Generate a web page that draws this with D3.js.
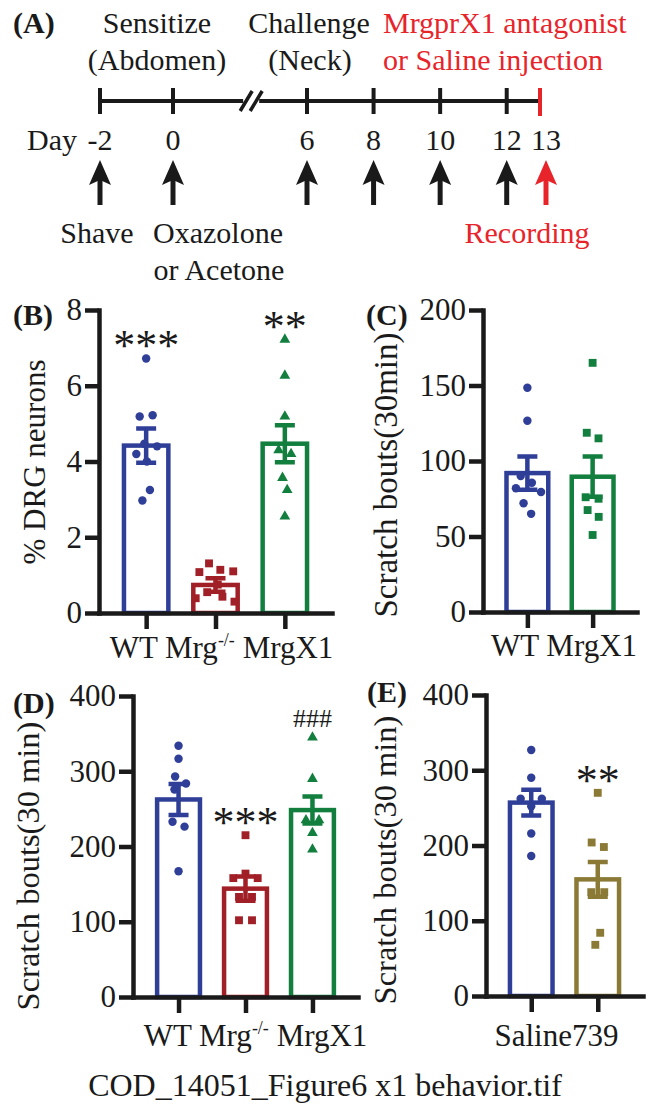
<!DOCTYPE html>
<html>
<head>
<meta charset="utf-8">
<script src="https://cdn.jsdelivr.net/npm/d3@7"></script>
<style>
  body { margin: 0; background: #fff; }
  svg { display: block; }
  text { font-family: 'Liberation Serif', 'Times New Roman', serif; fill: #1a1a1a; }
</style>
</head>
<body>
<div id="fig"></div>
<script>
// Figure 6: timeline (A) and four bar + scatter panels (B-E)

const INK = '#1a1a1a';
const RED_TEXT = '#e8242b';
const BLUE = '#2f3f98';
const DARK_RED = '#a11f26';
const GREEN = '#127f3f';
const OLIVE = '#8b7a36';

// (A) timeline
const tickDays = [-2, 0, 6, 8, 10, 12];
const recordDay = 13;
const arrowDays = [-2, 0, 6, 8, 10, 12, 13];

// (B) % DRG neurons
const groupsB = ['WT', 'Mrg-/-', 'MrgX1'];
const meansB = [4.42, 0.74, 4.47];
const semsB = [0.45, 0.18, 0.49];
const pointsB = [
    [6.72, 5.19, 5.22, 4.47, 4.4, 4.2, 4.0, 3.25, 2.97],
    [1.31, 1.14, 1.1, 1.08, 0.75, 0.55, 0.43, 0.39, 0.3],
    [7.22, 6.27, 5.19, 4.3, 4.2, 3.57, 3.25, 2.55]
];
const sigB = ['***', '', '**'];
const ticksB = [0, 2, 4, 6, 8];

// (C) scratch bouts, 30 min
const groupsC = ['WT', 'MrgX1'];
const meansC = [92, 89.6];
const semsC = [11, 13.3];
const pointsC = [
    [148.5, 126.7, 90, 85.6, 82, 79.5, 72, 65],
    [165, 118.7, 115, 76, 75, 67.5, 63, 51]
];
const ticksC = [0, 50, 100, 150, 200];

// (D) scratch bouts, 30 min
const groupsD = ['WT', 'Mrg-/-', 'MrgX1'];
const meansD = [262.5, 144, 248.4];
const semsD = [20.5, 16, 18];
const pointsD = [
    [334, 316.6, 293, 283.6, 275.7, 233, 226.4, 167],
    [215, 164, 158, 158, 133, 133, 102, 102],
    [345, 290, 235, 235, 218, 196]
];
const sigD = ['', '***', '###'];
const ticksD = [0, 100, 200, 300, 400];

// (E) saline vs 739
const groupsE = ['Saline', '739'];
const meansE = [257, 155];
const semsE = [17, 23];
const pointsE = [
    [327, 290, 262, 262, 252, 216, 186],
    [270, 204, 198, 138, 138, 84, 68]
];
const sigE = ['', '**'];
const ticksE = [0, 100, 200, 300, 400];

const svg = d3.select('#fig').append('svg')
    .attr('width', 649)
    .attr('height', 1107);

svg.append('rect').attr('width', 649).attr('height', 1107).attr('fill', '#fff');

function addText(g, x, y, str, opts = {}) {
    return g.append('text')
        .attr('x', x)
        .attr('y', y)
        .attr('text-anchor', opts.anchor || 'middle')
        .attr('font-size', opts.size || 30)
        .attr('font-weight', opts.weight || null)
        .style('fill', opts.color || INK)
        .text(str);
}

function drawTimeline() {
    const g = svg.append('g').attr('class', 'timeline');
    const x = d3.scaleLinear().domain([-2, 0, 6, 13]).range([100, 173, 307, 540]);
    const lineY = 101;
    const breakX = x(3.5);

    // main line, broken between day 0 and day 6
    g.append('line')
        .attr('x1', x(-2)).attr('x2', breakX - 8)
        .attr('y1', lineY).attr('y2', lineY)
        .attr('stroke', INK).attr('stroke-width', 4);
    g.append('line')
        .attr('x1', breakX + 8).attr('x2', x(recordDay))
        .attr('y1', lineY).attr('y2', lineY)
        .attr('stroke', INK).attr('stroke-width', 4);
    [-5, 5].forEach(off => {
        g.append('line')
            .attr('x1', breakX + off - 6).attr('y1', lineY + 10)
            .attr('x2', breakX + off + 6).attr('y2', lineY - 10)
            .attr('stroke', INK).attr('stroke-width', 3.5);
    });

    g.selectAll('.tick').data(tickDays).join('line')
        .attr('x1', d => x(d)).attr('x2', d => x(d))
        .attr('y1', lineY - 13).attr('y2', lineY + 13)
        .attr('stroke', INK).attr('stroke-width', 4);
    g.append('line')
        .attr('x1', x(recordDay)).attr('x2', x(recordDay))
        .attr('y1', lineY - 13).attr('y2', lineY + 15)
        .attr('stroke', RED_TEXT).attr('stroke-width', 4);

    // day labels (13 nudged right so it clears 12)
    const labelX = d => x(d) + (d === recordDay ? 6 : 0);
    g.selectAll('.day').data(arrowDays).join('text')
        .attr('x', d => labelX(d))
        .attr('y', 150)
        .attr('text-anchor', 'middle')
        .attr('font-size', 30)
        .text(d => d);
    addText(g, x(-2) - 23, 150, 'Day', { anchor: 'end' });

    // arrows
    g.selectAll('.arrow').data(arrowDays).join('g')
        .attr('transform', d => `translate(${labelX(d)},0)`)
        .each(function(d) {
            const col = d === recordDay ? RED_TEXT : INK;
            const a = d3.select(this);
            a.append('line')
                .attr('x1', 0).attr('x2', 0)
                .attr('y1', 178).attr('y2', 205)
                .attr('stroke', col).attr('stroke-width', 5);
            a.append('path')
                .attr('d', 'M0,160L11,185L0,180L-11,185Z')
                .attr('fill', col);
        });

    addText(g, 13, 33, '(A)', { anchor: 'start', weight: 'bold' });
    addText(g, 157, 33, 'Sensitize');
    addText(g, 157, 70, '(Abdomen)');
    addText(g, 309, 33, 'Challenge');
    addText(g, 310, 70, '(Neck)');
    addText(g, 383, 33, 'MrgprX1 antagonist', { anchor: 'start', color: RED_TEXT });
    addText(g, 383, 70, 'or Saline injection', { anchor: 'start', color: RED_TEXT });
    addText(g, x(-2) - 3, 243, 'Shave');
    addText(g, 218, 243, 'Oxazolone');
    addText(g, 219, 280, 'or Acetone');
    addText(g, 527, 243, 'Recording', { color: RED_TEXT });
}

function drawPanel(p) {
    const g = svg.append('g').attr('class', 'panel');
    const y = d3.scaleLinear().domain([0, p.ticks[p.ticks.length - 1]]).range([p.bottom, p.top]);
    const x = d3.scalePoint().domain(p.groups).range([p.left, p.right]).padding(0.68);
    const barW = x.step() * 0.64;

    // bars
    g.selectAll('.bar').data(p.groups).join('rect')
        .attr('x', d => x(d) - barW / 2)
        .attr('y', (d, i) => y(p.means[i]))
        .attr('width', barW)
        .attr('height', (d, i) => p.bottom - y(p.means[i]))
        .attr('fill', 'none')
        .attr('stroke', (d, i) => p.colors[i])
        .attr('stroke-width', 4.5);

    // individual animals, spread sideways so they don't overlap
    p.groups.forEach((grp, i) => {
        const nodes = p.points[i].map(v => ({ v, x: x(grp), fy: y(v) }));
        const sim = d3.forceSimulation(nodes)
            .force('x', d3.forceX(x(grp)).strength(0.06))
            .force('collide', d3.forceCollide(6.5))
            .stop();
        for (let k = 0; k < 300; k++) sim.tick();

        const size = p.shapes[i] === d3.symbolSquare ? 62 : (p.shapes[i] === d3.symbolTriangle ? 50 : 56);
        g.selectAll(null).data(nodes).join('path')
            .attr('transform', d => `translate(${d.x},${d.fy})`)
            .attr('d', d3.symbol().type(p.shapes[i]).size(size))
            .attr('fill', p.colors[i]);
    });

    // mean +/- SEM
    g.selectAll('.err').data(p.groups).join('path')
        .attr('d', (d, i) => {
            const cx = x(d);
            const hi = y(p.means[i] + p.sems[i]);
            const lo = y(p.means[i] - p.sems[i]);
            const w = 10;
            return `M${cx},${hi}V${lo}M${cx - w},${hi}H${cx + w}M${cx - w},${lo}H${cx + w}`;
        })
        .attr('fill', 'none')
        .attr('stroke', (d, i) => p.colors[i])
        .attr('stroke-width', 4.5);

    // axes
    const yAxis = g.append('g')
        .attr('transform', `translate(${p.left},0)`)
        .call(d3.axisLeft(y).tickValues(p.ticks).tickSize(14).tickSizeOuter(0).tickPadding(3));
    const xAxis = g.append('g')
        .attr('transform', `translate(0,${p.bottom})`)
        .call(d3.axisBottom(x).tickSize(16).tickSizeOuter(0).tickFormat(''));
    [yAxis, xAxis].forEach(a => {
        a.selectAll('path, line').attr('stroke', INK).attr('stroke-width', 4.5);
        a.select('.domain').attr('stroke-linecap', 'square');
        a.selectAll('text')
            .attr('font-size', 31)
            .attr('font-family', "'Liberation Serif', 'Times New Roman', serif");
    });

    // group names
    const names = g.append('text')
        .attr('x', (x(p.groups[0]) + x(p.groups[p.groups.length - 1])) / 2 + p.nameShift)
        .attr('y', p.nameY)
        .attr('text-anchor', 'middle')
        .attr('font-size', 31);
    let raised = false;
    p.groups.forEach((grp, i) => {
        const sup = grp.endsWith('-/-');
        const base = sup ? grp.slice(0, -3) : grp;
        names.append('tspan')
            .attr('dy', raised ? 12 : null)
            .text((i > 0 ? p.sep : '') + base);
        raised = false;
        if (sup) {
            names.append('tspan').attr('dy', -12).attr('font-size', 18).text('-/-');
            raised = true;
        }
    });

    // significance marks above the highest point
    p.sig.forEach((s, i) => {
        if (!s) return;
        const isHash = s[0] === '#';
        const fs = isHash ? 26 : 44;
        const top = y(d3.max(p.points[i])) - 19;
        addText(g, x(p.groups[i]), top + (isHash ? 0.34 : 0.47) * fs, s, { size: fs });
    });

    // y title and panel letter
    g.append('text')
        .attr('transform', `translate(${p.titleX},${p.titleY}) rotate(-90)`)
        .attr('text-anchor', 'middle')
        .attr('font-size', p.titleSize)
        .text(p.title);
    addText(g, p.labelX, p.labelY, p.label, { anchor: 'start', weight: 'bold' });
}

drawTimeline();

drawPanel({
    groups: groupsB, means: meansB, sems: semsB, points: pointsB, sig: sigB, ticks: ticksB,
    colors: [BLUE, DARK_RED, GREEN],
    shapes: [d3.symbolCircle, d3.symbolSquare, d3.symbolTriangle],
    left: 99, right: 332, top: 310, bottom: 613,
    title: '% DRG neurons', titleX: 45, titleY: 462, titleSize: 31,
    label: '(B)', labelX: 13, labelY: 325,
    nameY: 658, nameShift: 6, sep: ' '
});

drawPanel({
    groups: groupsC, means: meansC, sems: semsC, points: pointsC, sig: [], ticks: ticksC,
    colors: [BLUE, GREEN],
    shapes: [d3.symbolCircle, d3.symbolSquare],
    left: 483, right: 637, top: 310, bottom: 612,
    title: 'Scratch bouts(30min)', titleX: 397, titleY: 475, titleSize: 33,
    label: '(C)', labelX: 366, labelY: 325,
    nameY: 656, nameShift: 4, sep: ' '
});

drawPanel({
    groups: groupsD, means: meansD, sems: semsD, points: pointsD, sig: sigD, ticks: ticksD,
    colors: [BLUE, DARK_RED, GREEN],
    shapes: [d3.symbolCircle, d3.symbolSquare, d3.symbolTriangle],
    left: 133, right: 358, top: 696, bottom: 997,
    title: 'Scratch bouts(30 min)', titleX: 39, titleY: 866, titleSize: 32.5,
    label: '(D)', labelX: 13, labelY: 713,
    nameY: 1046, nameShift: 10, sep: ' '
});

drawPanel({
    groups: groupsE, means: meansE, sems: semsE, points: pointsE, sig: sigE, ticks: ticksE,
    colors: [BLUE, OLIVE],
    shapes: [d3.symbolCircle, d3.symbolSquare],
    left: 486, right: 643, top: 695, bottom: 996,
    title: 'Scratch bouts(30 min)', titleX: 396, titleY: 860, titleSize: 32.5,
    label: '(E)', labelX: 367, labelY: 702,
    nameY: 1046, nameShift: -8, sep: ''
});

// file name caption
addText(svg, 325, 1096, 'COD_14051_Figure6 x1 behavior.tif', { size: 32 });
</script>
</body>
</html>
